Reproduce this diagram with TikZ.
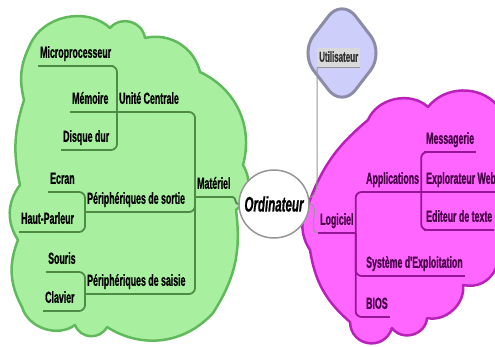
\documentclass[tikz,border=0pt]{standalone}
\usepackage{fontspec}
\usepackage{xcolor}
\usepackage{tikz}
\usetikzlibrary{shapes.geometric, positioning}

\newfontfamily\mapfont[FakeStretch=0.55, FakeBold=0.8]{Liberation Sans}

\definecolor{greenfill}{RGB}{168,240,160}
\definecolor{greenedge}{RGB}{96,186,92}
\definecolor{greenline}{RGB}{78,140,70}
\definecolor{pinkfill}{RGB}{255,102,255}
\definecolor{pinkedge}{RGB}{184,34,184}
\definecolor{pinkline}{RGB}{150,20,150}
\definecolor{pinktext}{RGB}{70,0,70}
\definecolor{userfill}{RGB}{206,206,250}
\definecolor{useredge}{RGB}{140,140,168}
\definecolor{hubedge}{RGB}{150,150,150}

\begin{document}
\begin{tikzpicture}[x=1pt, y=-1pt,
        cloudshape/.style={line width=2.5pt, line join=round},
        userbox/.style={diamond, draw=useredge, fill=userfill, line width=3pt, rounded corners=22pt, minimum width=85pt, minimum height=110pt, inner sep=0pt},
        hub/.style={ellipse, draw=hubedge, fill=white, line width=1.5pt, minimum width=70pt, minimum height=68pt, inner sep=0pt},
        hubtext/.style={font=\mapfont\bfseries\itshape\fontsize{21pt}{23pt}\selectfont},
        gline/.style={draw=greenline, line width=1.8pt, rounded corners=6pt},
        pline/.style={draw=pinkline, line width=1.8pt, rounded corners=6pt},
        hubline/.style={draw=hubedge, line width=1pt},
        topic/.style={anchor=south west, inner xsep=2pt, inner ysep=5pt, text depth=3pt, font=\mapfont\bfseries\fontsize{16pt}{18pt}\selectfont},
        gtopic/.style={topic, text=black, append after command={(\tikzlastnode.south west) edge[gline] (\tikzlastnode.south east)}},
        ptopic/.style={topic, text=pinktext, append after command={(\tikzlastnode.south west) edge[pline] (\tikzlastnode.south east)}},
        usertopic/.style={topic, fill=black!15, inner ysep=3pt, font=\mapfont\bfseries\fontsize{14.5pt}{16pt}\selectfont, text=black!80, append after command={(\tikzlastnode.south west) edge[hubline] (\tikzlastnode.south east)}}]

    \useasboundingbox (0,0) rectangle (495,347);
    \clip (0,0) rectangle (495,347);

    % Clouds
    \draw [cloudshape, draw=greenedge, fill=greenfill]
        (20,185) to[bend left=15] (24,100) to[bend left=20] (30,45)
        to[bend left=55] (110,28) to[bend left=65, looseness=1.2] (145,38)
        to[bend left=45] (200,72) to[bend left=40] (243,165)
        to[bend left=40] (236,210) to[bend left=20] (213,313)
        to[bend left=40] (107,327) to[bend left=65, looseness=1.2] (75,325)
        to[bend left=55] (22,307) to[bend left=25] (18,240)
        to[bend left=35] (20,185) -- cycle;
    \draw [cloudshape, draw=pinkedge, fill=pinkfill]
        (308,205) to[bend left=15] (368,120) to[bend left=55] (428,107)
        to[bend left=50] (497,105) to[bend left=20] (497,232)
        to[bend left=40] (496,268) to[bend left=40] (463,285)
        to[bend left=55] (427,318) to[bend left=70, looseness=1.2] (392,328)
        to[bend left=80, looseness=1.5] (350,322) to[bend left=20] (310,250)
        to[bend left=30] (308,205) -- cycle;

    % Nodes
    \node [userbox] (user) at (342,53) {};
    \node [hub] (ord) at (274,204) {};

    \node [gtopic] (mpu) at (38,66) {Microprocesseur};
    \node [gtopic] (mem) at (70,112) {Mémoire};
    \node [gtopic] (uc) at (117,112) {Unité Centrale};
    \node [gtopic] (dd) at (61,150) {Disque dur};
    \node [gtopic] (ecr) at (48,192) {Ecran};
    \node [gtopic] (hp) at (19,232) {Haut-Parleur};
    \node [gtopic] (ps) at (85,212) {Périphériques de sortie};
    \node [gtopic] (sou) at (46,272) {Souris};
    \node [gtopic] (clav) at (43,311) {Clavier};
    \node [gtopic] (pe) at (85,294) {Périphériques de saisie};
    \node [gtopic] (mat) at (195,197) {Matériel};

    \node [usertopic] (utl) at (317,68) {Utilisateur};

    \node [ptopic] (log) at (318,233) {Logiciel};
    \node [ptopic] (app) at (364,192) {Applications};
    \node [ptopic] (sys) at (364,276) {Système d'Exploitation};
    \node [ptopic] (bios) at (364,317) {BIOS};
    \node [ptopic] (mes) at (424,152) {Messagerie};
    \node [ptopic] (exp) at (424,192) {Explorateur Web};
    \node [ptopic] (edt) at (424,230) {Editeur de texte};

    % Edges
    \path [gline] (mpu.south east) -| (uc.south west);
    \path [gline] (mem.south east) -- (uc.south west);
    \path [gline] (dd.south east) -| (uc.south west);
    \path [gline] (ecr.south east) -| (ps.south west);
    \path [gline] (hp.south east) -| (ps.south west);
    \path [gline] (sou.south east) -| (pe.south west);
    \path [gline] (clav.south east) -| (pe.south west);
    \path [gline] (uc.south east) -| (mat.south west);
    \path [gline] (ps.south east) -| (mat.south west);
    \path [gline] (pe.south east) -| (mat.south west);
    \path [gline] (mat.south east) to[out=0, in=190] (ord.west);

    \path [hubline] (utl.south west) -- ++(0,110) to[out=-90, in=15] (ord.10);
    \path [hubline] (ord.east) to[out=0, in=180] (log.south west);

    \path [pline] (log.south east) |- (app.south west);
    \path [pline] (log.south east) |- (sys.south west);
    \path [pline] (log.south east) |- (bios.south west);
    \path [pline] (app.south east) |- (mes.south west);
    \path [pline] (app.south east) -- (exp.south west);
    \path [pline] (app.south east) |- (edt.south west);

    \node [hubtext] (ordtext) at (ord) {Ordinateur};
\end{tikzpicture}
\end{document}
